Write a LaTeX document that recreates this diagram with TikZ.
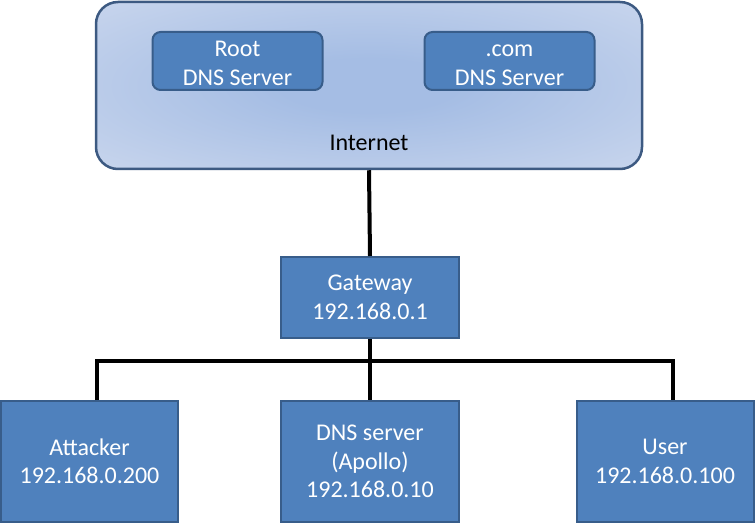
\documentclass[tikz,border=0pt]{standalone}
\usepackage{fontspec}
\setmainfont{Carlito}
\usetikzlibrary{positioning}

\definecolor{boxblue}{HTML}{4F81BD}
\definecolor{boxedge}{HTML}{385D8A}
\definecolor{cloudedge}{HTML}{3D5A82}
\definecolor{cloudin}{HTML}{A5BDE4}
\definecolor{cloudout}{HTML}{DCE3F2}

\pgfdeclareradialshading{cloudglow}{\pgfpoint{0bp}{0bp}}{%
    color(0bp)=(cloudin); color(8bp)=(cloudin); color(52bp)=(cloudout); color(72bp)=(cloudout)}

\tikzset{
    hostbox/.style={draw=boxedge, line width=2pt, fill=boxblue, text=white,
        align=center, inner sep=0pt, minimum width=177pt, minimum height=121pt,
        font=\fontsize{24}{28.5}\selectfont},
    dnsbox/.style={hostbox, rounded corners=8pt, minimum width=170pt, minimum height=58pt},
    link/.style={line width=4pt}
}

\begin{document}
\begin{tikzpicture}[x=1pt, y=1pt]
    \useasboundingbox (0,0) rectangle (755,523);

    % Draw the internet cloud with its servers
    \node[draw=cloudedge, line width=2.5pt, rounded corners=22pt, shading=cloudglow,
        minimum width=546pt, minimum height=167pt] (internet) at (369,437.5) {};
    \node[dnsbox] (root) at (237.5,462) {\strut Root\\DNS Server};
    \node[dnsbox] (dotcom) at (509.5,462) {\strut.com\\DNS Server};
    \node[font=\fontsize{24}{28.5}\selectfont] (inetlabel) at (369,380) {Internet};

    % Gateway and hosts of the local network
    \node[hostbox, minimum width=178pt, minimum height=81pt] (gateway) at (370,225.5) {Gateway\\192.168.0.1};
    \node[hostbox] (attacker) at (89.5,61.5) {Attacker\\192.168.0.200};
    \node[hostbox, minimum width=178pt] (dns) at (370,61.5) {DNS server\\(Apollo)\\192.168.0.10};
    \node[hostbox] (user) at (665,61.5) {User\\192.168.0.100};

    % Bus of the local network
    \coordinate (busL) at (97,162);
    \coordinate (busR) at (673,162);

    \draw[link] (internet.south) -- (gateway.north);
    \draw[link] (gateway.south) -- (dns.north);
    \draw[link] (busL |- attacker.north) -- (busL) -- (busR) -- (busR |- user.north);
\end{tikzpicture}
\end{document}
